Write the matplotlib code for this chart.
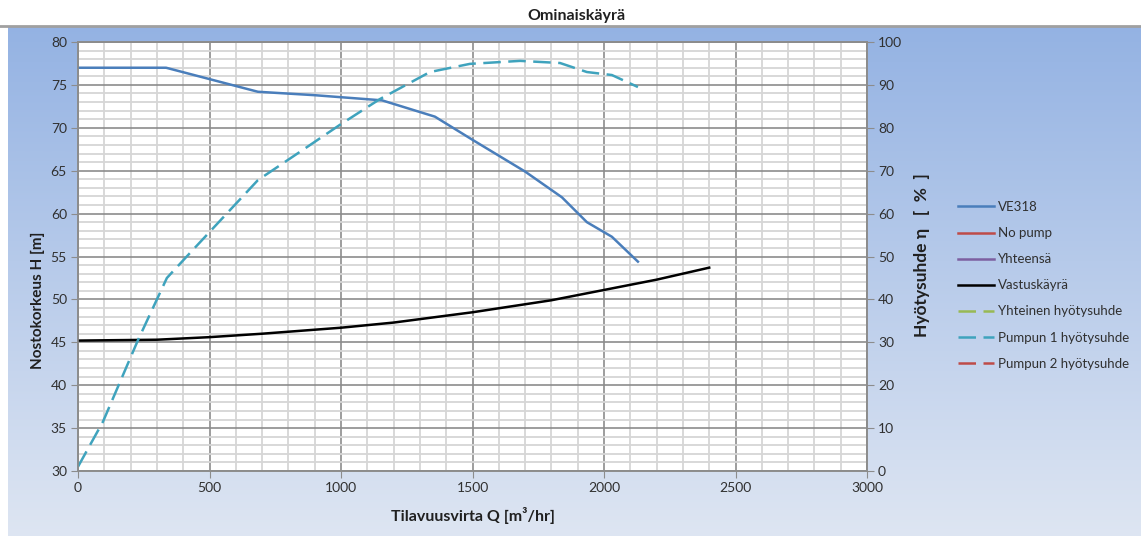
import numpy as np
import matplotlib.pyplot as plt
from matplotlib.ticker import MultipleLocator

plt.rcParams['font.family'] = ['Lato', 'DejaVu Sans']

# Pump curve VE318: flow [m3/h] vs head [m]
q_pump = [0, 335, 684, 900, 1156, 1357, 1500, 1700, 1840, 1935, 2030, 2129]
h_pump = [77.0, 77.0, 74.2, 73.8, 73.2, 71.3, 68.6, 64.9, 61.9, 59.0, 57.3, 54.4]

# System resistance curve (Vastuskäyrä)
q_sys = [0, 300, 500, 700, 1000, 1200, 1500, 1800, 2000, 2200, 2400]
h_sys = [45.2, 45.3, 45.6, 46.0, 46.7, 47.3, 48.5, 49.9, 51.1, 52.3, 53.7]

# Pump 1 efficiency [%]
q_eff = [0, 95, 228, 338, 418, 684, 844, 996, 1148, 1338, 1490, 1681, 1833, 1935, 2030, 2129]
eff_1 = [1.0, 11.5, 30.5, 45.0, 50.3, 67.8, 74.4, 80.7, 86.7, 93.0, 94.9, 95.6, 95.1, 93.0, 92.3, 89.5]

W, H = 1141, 536
fig = plt.figure(figsize=(W / 100, H / 100), dpi=100)

# gradient backdrop behind the chart
bg = fig.add_axes([8 / W, 0, 1 - 8 / W, (H - 26) / H], zorder=-10)
top = np.array([0.58, 0.70, 0.89])
bot = np.array([0.87, 0.90, 0.95])
t = np.linspace(0, 1, 256)[:, None, None]
grad = (1 - t) * top + t * bot
bg.imshow(grad, aspect='auto', extent=[0, 1, 0, 1])
bg.axis('off')
fig.add_artist(plt.Line2D([0, 1], [1 - 26 / H, 1 - 26 / H], color='#a0a0a0', lw=2.0,
                          transform=fig.transFigure))

ax = fig.add_axes([78 / W, 1 - 471 / H, (867 - 78) / W, (471 - 42) / H])
ax.set_facecolor('white')
ax.set_xlim(0, 3000)
ax.set_ylim(30, 80)
ax.xaxis.set_major_locator(MultipleLocator(500))
ax.xaxis.set_minor_locator(MultipleLocator(100))
ax.yaxis.set_major_locator(MultipleLocator(5))
ax.yaxis.set_minor_locator(MultipleLocator(1))
ax.grid(which='minor', color='#d6d6d6', lw=1.3)
ax.grid(which='major', color='#8c8c8c', lw=1.2)
ax.set_axisbelow(True)
ax.tick_params(which='minor', length=0)
ax.tick_params(which='major', length=5, color='#8c8c8c', labelsize=10,
               labelcolor='#303030', pad=3)
for s in ax.spines.values():
    s.set_color('#8c8c8c')
    s.set_linewidth(1.2)

ax.plot(q_pump, h_pump, color='#4a7ebb', lw=1.8, label='VE318', zorder=3)
ax.plot([], [], color='#be4b48', lw=1.8, label='No pump')
ax.plot([], [], color='#7d5fa0', lw=1.8, label='Yhteensä')
ax.plot(q_sys, h_sys, color='black', lw=1.8, label='Vastuskäyrä', zorder=3)

ax2 = ax.twinx()
ax2.set_ylim(0, 100)
ax2.yaxis.set_major_locator(MultipleLocator(10))
ax2.tick_params(which='major', length=5, color='#8c8c8c', labelsize=10,
                labelcolor='#303030', pad=3)
for s in ax2.spines.values():
    s.set_color('#8c8c8c')
    s.set_linewidth(1.2)
ax2.plot([], [], color='#98b954', lw=1.8, dashes=(7, 3), label='Yhteinen hyötysuhde')
ax2.plot(q_eff, eff_1, color='#3fa3bd', lw=1.8, dashes=(7, 3), label='Pumpun 1 hyötysuhde')
ax2.plot([], [], color='#be4b48', lw=1.8, dashes=(7, 3), label='Pumpun 2 hyötysuhde')

h1, l1 = ax.get_legend_handles_labels()
h2, l2 = ax2.get_legend_handles_labels()
fig.legend(h1 + h2, l1 + l2, loc='upper left', bbox_to_anchor=(958 / W, 1 - 201 / H),
           frameon=False, fontsize=9.5, handlelength=2.75, handletextpad=0.3,
           labelspacing=1.07, borderpad=0, borderaxespad=0, labelcolor='#303030')

fig.text(576 / W, 1 - 16 / H, 'Ominaiskäyrä', ha='center', va='center',
         fontsize=11.5, fontweight='bold', color='#202020')
fig.text(473 / W, 1 - 516 / H, 'Tilavuusvirta Q [m³/hr]', ha='center', va='center',
         fontsize=11.5, fontweight='bold', color='#202020')
fig.text(38 / W, 1 - 300 / H, 'Nostokorkeus H [m]', ha='center', va='center',
         rotation=90, fontsize=11, fontweight='bold', color='#202020')
fig.text(922 / W, 1 - 255 / H, 'Hyötysuhde η   [  %  ]', ha='center', va='center',
         rotation=90, fontsize=12.5, fontweight='bold', color='#202020')

fig.savefig('out.png', dpi=100)
